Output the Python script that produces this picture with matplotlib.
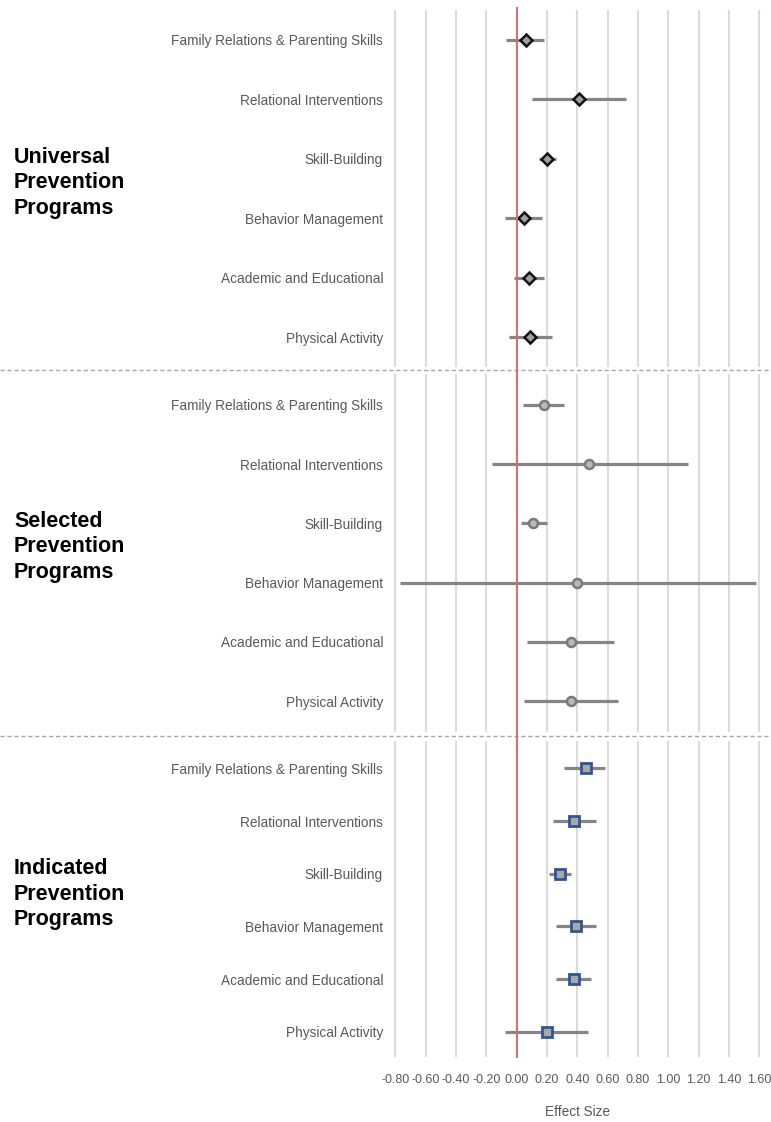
import matplotlib
matplotlib.use("Agg")
import matplotlib.pyplot as plt
import matplotlib.transforms as mtransforms
from matplotlib.lines import Line2D

plt.rcParams['font.family'] = ['Liberation Sans', 'DejaVu Sans']

categories = ["Family Relations & Parenting Skills", "Relational Interventions",
              "Skill-Building", "Behavior Management",
              "Academic and Educational", "Physical Activity"]
panel_titles = ["Universal\nPrevention\nPrograms", "Selected\nPrevention\nPrograms",
                "Indicated\nPrevention\nPrograms"]

universal_es = [0.06, 0.41, 0.20, 0.05, 0.08, 0.09]
universal_lo = [-0.07, 0.10, 0.15, -0.08, -0.02, -0.05]
universal_hi = [0.18, 0.72, 0.26, 0.17, 0.18, 0.23]

selected_es = [0.18, 0.48, 0.11, 0.40, 0.355, 0.36]
selected_lo = [0.04, -0.16, 0.03, -0.77, 0.07, 0.05]
selected_hi = [0.31, 1.13, 0.20, 1.58, 0.64, 0.67]

indicated_es = [0.455, 0.38, 0.285, 0.39, 0.38, 0.20]
indicated_lo = [0.31, 0.24, 0.21, 0.26, 0.26, -0.08]
indicated_hi = [0.58, 0.52, 0.36, 0.52, 0.49, 0.47]

xticks = [-0.8, -0.6, -0.4, -0.2, 0.0, 0.2, 0.4, 0.6, 0.8, 1.0, 1.2, 1.4, 1.6]
xlabel = "Effect Size"

W, H = 771, 1122
fig = plt.figure(figsize=(W / 100, H / 100), dpi=100)

def fb(top, bottom):
    return 1 - bottom / H, (bottom - top) / H

ax_left = 390 / W
ax_w = (765 - 390) / W
xlim = (-0.835, 1.637)

panels = [
    dict(top=10, bottom=367, ylim=(5.5, -0.5), es=universal_es, lo=universal_lo, hi=universal_hi,
         marker='D', ms=6, mfc='#a0a0a0', mec='#111111', mew=1.8, title_y=183),
    dict(top=374, bottom=732, ylim=(5.52, -0.52), es=selected_es, lo=selected_lo, hi=selected_hi,
         marker='o', ms=6.5, mfc='#b8b8b8', mec='#7a7a7a', mew=1.8, title_y=547),
    dict(top=741, bottom=1057, ylim=(5.48, -0.52), es=indicated_es, lo=indicated_lo, hi=indicated_hi,
         marker='s', ms=7, mfc='#a8a8a8', mec='#2f5597', mew=2.0, title_y=894),
]

axes = []
for i, p in enumerate(panels):
    b, h = fb(p['top'], p['bottom'])
    ax = fig.add_axes([ax_left, b, ax_w, h])
    axes.append(ax)
    ys = list(range(len(categories)))
    for y, lo, hi in zip(ys, p['lo'], p['hi']):
        ax.plot([lo, hi], [y, y], color='#858585', lw=2.3, solid_capstyle='butt', zorder=3)
    ax.plot(p['es'], ys, linestyle='none', marker=p['marker'], ms=p['ms'],
            mfc=p['mfc'], mec=p['mec'], mew=p['mew'], zorder=4)
    ax.set_xlim(*xlim)
    ax.set_ylim(*p['ylim'])
    ax.set_yticks(ys)
    ax.set_yticklabels(categories, fontsize=9.8, color='#595959')
    ax.tick_params(axis='y', length=0, pad=5)
    ax.set_xticks(xticks)
    for xv in xticks:
        ax.axvline(xv, color='#dcdcdc', lw=1.5, zorder=1)
    if i < 2:
        ax.tick_params(axis='x', length=0, labelbottom=False)
    else:
        ax.set_xticklabels([f"{v:.2f}" for v in xticks], fontsize=9, color='#595959')
        ax.tick_params(axis='x', length=0, pad=12)
        ax.set_xlabel(xlabel, fontsize=9.8, color='#595959', labelpad=14)
    for s in ax.spines.values():
        s.set_visible(False)
    ax.patch.set_alpha(0)
    fig.text(14 / W, 1 - p['title_y'] / H, panel_titles[i], fontsize=15.5,
             fontweight='bold', color='black', ha='left', va='center', linespacing=1.27)

# red zero line across all panels
trans = mtransforms.blended_transform_factory(axes[0].transData, fig.transFigure)
fig.add_artist(Line2D([0, 0], [1 - 8 / H, 1 - 1057 / H], transform=trans,
                      color='#d96b6b', lw=1.4, zorder=5))

# dashed separators
for ysep in (370, 736):
    fig.add_artist(Line2D([0, 1], [1 - ysep / H, 1 - ysep / H], transform=fig.transFigure,
                          color='#a6a6a6', lw=1.0, linestyle=(0, (3, 2))))

fig.savefig("out.png", dpi=100)
